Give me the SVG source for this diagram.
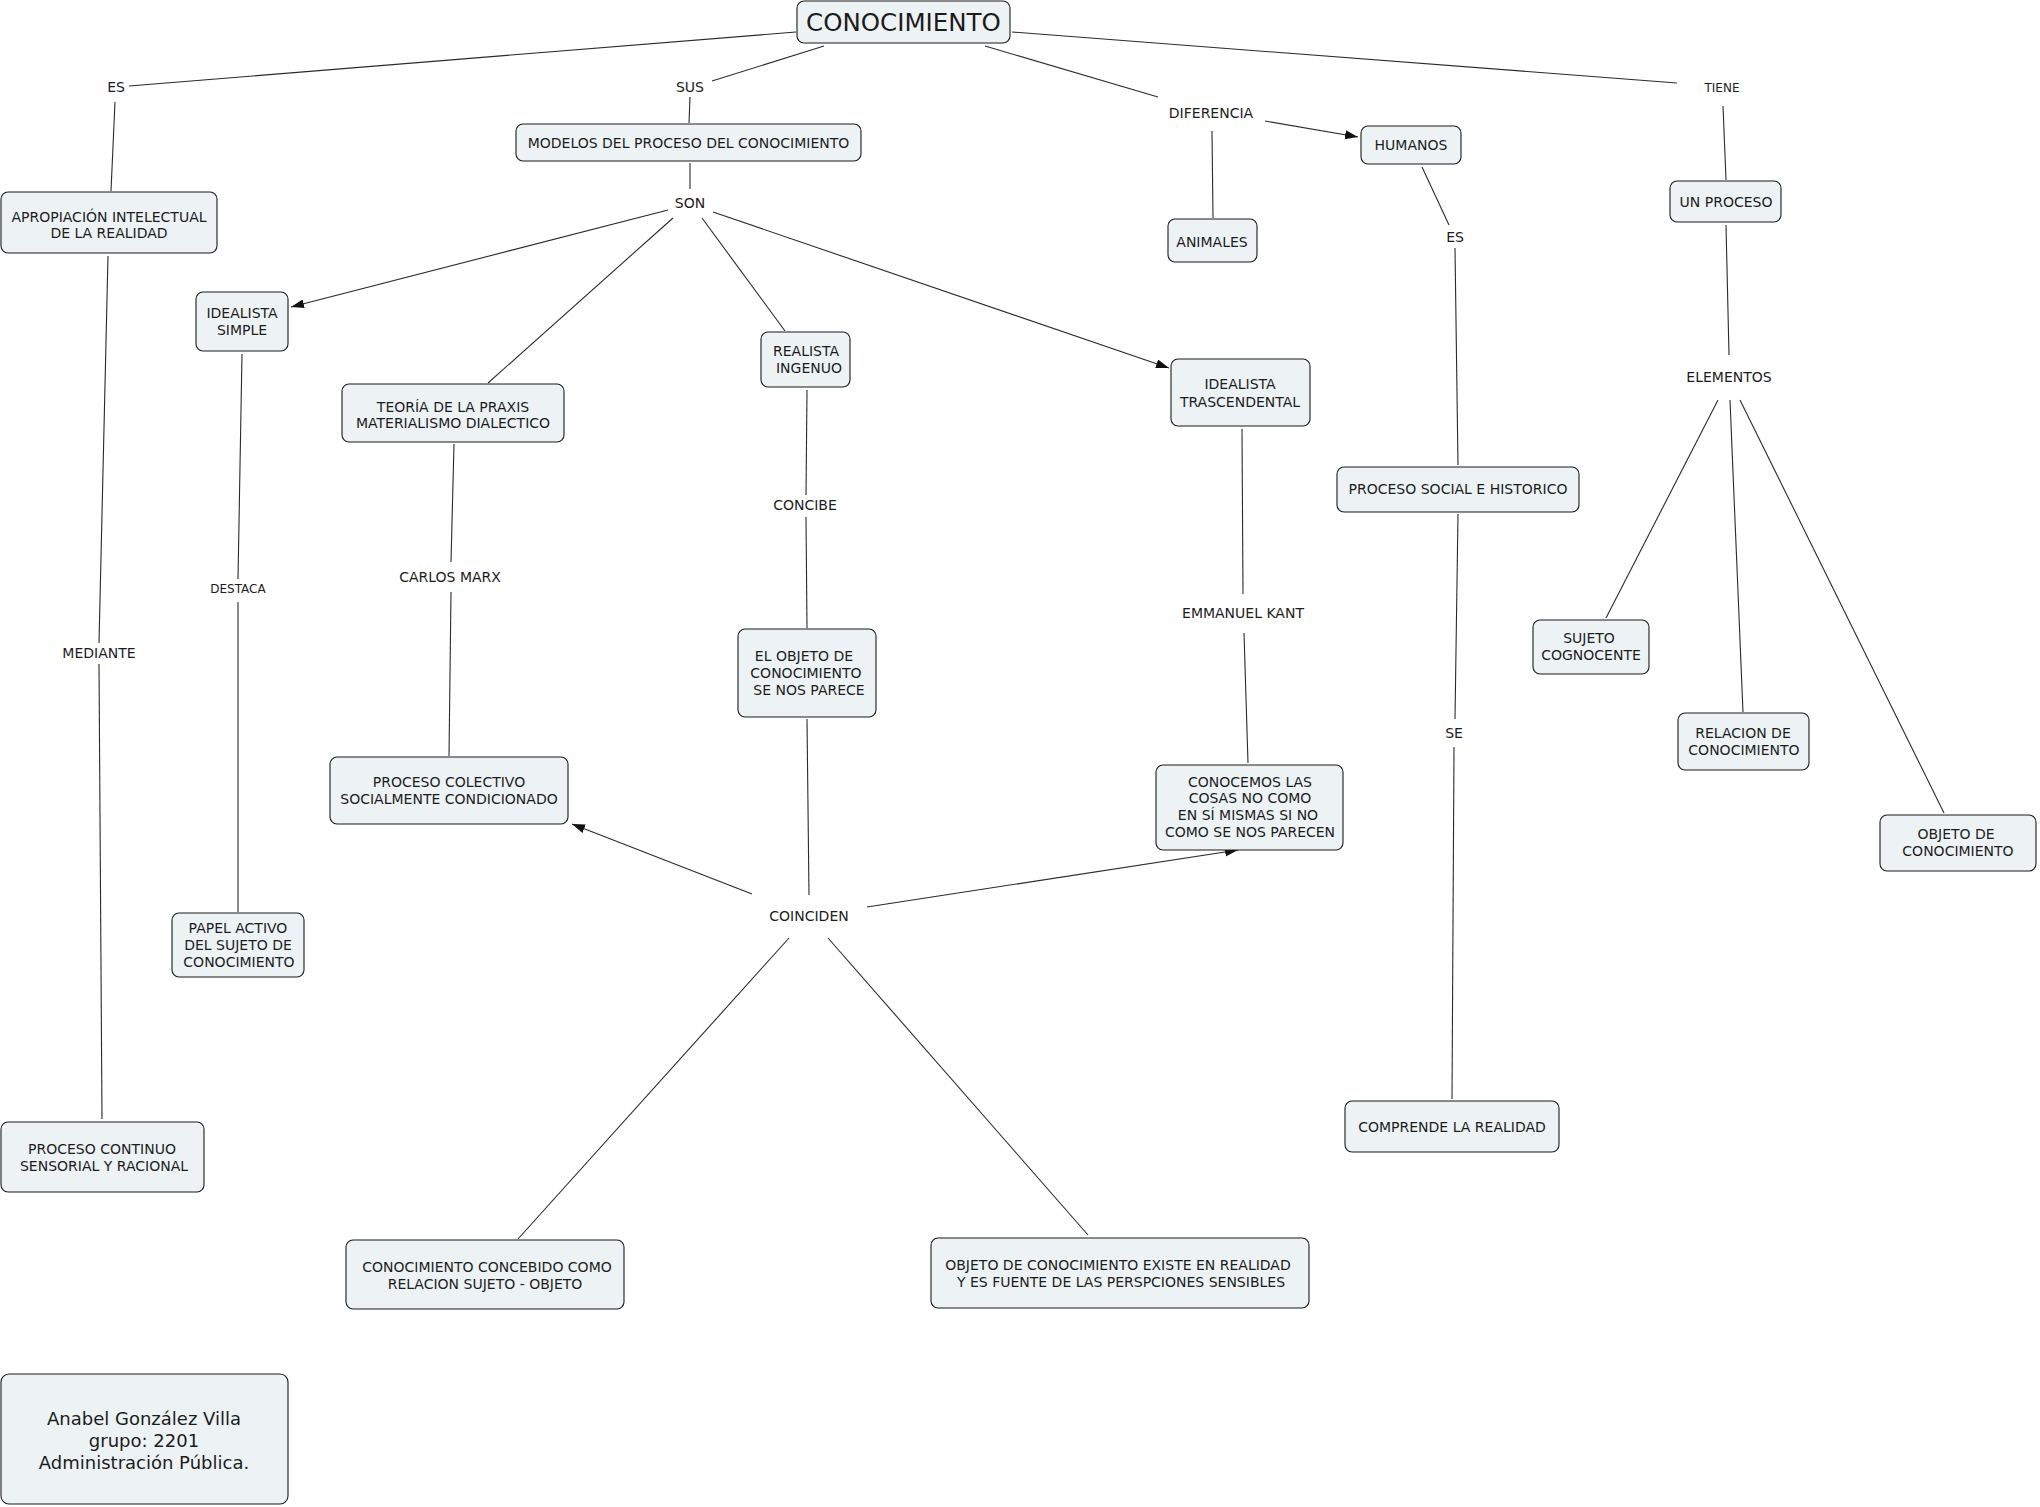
<svg xmlns="http://www.w3.org/2000/svg" width="2040" height="1507" viewBox="0 0 2040 1507">
<style>
.n{fill:#edf3f5;stroke:#1a1a1a;stroke-width:1.1}
text{font-family:"DejaVu Sans",Verdana,sans-serif;font-size:14px;fill:#1c1c1c;text-anchor:middle}
.s{font-size:12px}
.big{font-size:24.5px}
.au{font-size:18px}
.c line{stroke:#2a2a2a;stroke-width:1.1}
</style>
<defs>
<marker id="ah" markerUnits="userSpaceOnUse" markerWidth="14" markerHeight="10" refX="13" refY="4.5" orient="auto">
<path d="M0,0 L13,4.5 L0,9 z" fill="#111"/>
</marker>
</defs>
<rect width="2040" height="1507" fill="#fff"/>
<g class="c" id="connectors">
<line x1="796" y1="32" x2="129" y2="86"/>
<line x1="115" y1="102" x2="111" y2="191"/>
<line x1="824" y1="46" x2="712" y2="81"/>
<line x1="690" y1="97" x2="689" y2="123"/>
<line x1="690" y1="163" x2="690" y2="189"/>
<line x1="668" y1="210" x2="291" y2="307" marker-end="url(#ah)"/>
<line x1="673" y1="218" x2="488" y2="383"/>
<line x1="702" y1="218" x2="785" y2="331"/>
<line x1="713" y1="212" x2="1169" y2="368" marker-end="url(#ah)"/>
<line x1="985" y1="46" x2="1158" y2="97"/>
<line x1="1265" y1="121" x2="1358" y2="137" marker-end="url(#ah)"/>
<line x1="1212" y1="131" x2="1213" y2="218"/>
<line x1="1012" y1="32" x2="1677" y2="83"/>
<line x1="1723" y1="106" x2="1726" y2="180"/>
<line x1="1726" y1="225" x2="1729" y2="355"/>
<line x1="1718" y1="400" x2="1606" y2="618"/>
<line x1="1730" y1="400" x2="1743" y2="712"/>
<line x1="1740" y1="400" x2="1944" y2="813"/>
<line x1="1422" y1="167" x2="1449" y2="225"/>
<line x1="1455" y1="248" x2="1458" y2="465"/>
<line x1="1458" y1="514" x2="1455" y2="719"/>
<line x1="1454" y1="747" x2="1452" y2="1099"/>
<line x1="108" y1="256" x2="99" y2="643"/>
<line x1="99" y1="664" x2="102" y2="1119"/>
<line x1="242" y1="354" x2="238" y2="579"/>
<line x1="238" y1="602" x2="238" y2="912"/>
<line x1="454" y1="444" x2="451" y2="562"/>
<line x1="451" y1="592" x2="449" y2="756"/>
<line x1="807" y1="390" x2="806" y2="495"/>
<line x1="806" y1="517" x2="807" y2="628"/>
<line x1="807" y1="719" x2="809" y2="895"/>
<line x1="752" y1="894" x2="572" y2="824" marker-end="url(#ah)"/>
<line x1="867" y1="907" x2="1238" y2="850" marker-end="url(#ah)"/>
<line x1="1242" y1="429" x2="1243" y2="594"/>
<line x1="1244" y1="633" x2="1248" y2="763"/>
<line x1="789" y1="938" x2="518" y2="1239"/>
<line x1="828" y1="938" x2="1088" y2="1235"/>
</g>
<g id="conocimiento"><rect class="n" x="797" y="1" width="213" height="42" rx="7"/><text class="big" x="903.5" y="31">CONOCIMIENTO</text></g>
<g id="es1"><text x="116" y="92">ES</text></g>
<g id="sus"><text x="690" y="92">SUS</text></g>
<g id="diferencia"><text x="1211" y="118">DIFERENCIA</text></g>
<g id="tiene"><text class="s" x="1722" y="92">TIENE</text></g>
<g id="modelos"><rect class="n" x="516" y="124" width="345" height="37" rx="7"/><text x="688.5" y="148">MODELOS DEL PROCESO DEL CONOCIMIENTO</text></g>
<g id="son"><text x="690" y="208">SON</text></g>
<g id="apropiacion"><rect class="n" x="1" y="192" width="216" height="61" rx="7"/><text x="109" y="222">APROPIACIÓN INTELECTUAL</text><text x="109" y="238">DE LA REALIDAD</text></g>
<g id="idealista-simple"><rect class="n" x="196" y="292" width="92" height="59" rx="7"/><text x="242" y="318">IDEALISTA</text><text x="242" y="335">SIMPLE</text></g>
<g id="teoria"><rect class="n" x="342" y="384" width="222" height="58" rx="7"/><text x="453" y="412">TEORÍA DE LA PRAXIS</text><text x="453" y="428">MATERIALISMO DIALECTICO</text></g>
<g id="realista"><rect class="n" x="761" y="332" width="89" height="55" rx="7"/><text x="806" y="356">REALISTA</text><text x="809" y="373">INGENUO</text></g>
<g id="idealista-trascendental"><rect class="n" x="1171" y="359" width="139" height="67" rx="7"/><text x="1240" y="389">IDEALISTA</text><text x="1240" y="407">TRASCENDENTAL</text></g>
<g id="animales"><rect class="n" x="1168" y="219" width="89" height="43" rx="7"/><text x="1212" y="247">ANIMALES</text></g>
<g id="humanos"><rect class="n" x="1361" y="126" width="100" height="38" rx="7"/><text x="1411" y="150">HUMANOS</text></g>
<g id="es2"><text x="1455" y="242">ES</text></g>
<g id="un-proceso"><rect class="n" x="1670" y="181" width="111" height="41" rx="7"/><text x="1726" y="207">UN PROCESO</text></g>
<g id="elementos"><text x="1729" y="382">ELEMENTOS</text></g>
<g id="proceso-social"><rect class="n" x="1337" y="467" width="242" height="45" rx="7"/><text x="1458" y="494">PROCESO SOCIAL E HISTORICO</text></g>
<g id="se"><text x="1454" y="738">SE</text></g>
<g id="comprende"><rect class="n" x="1345" y="1101" width="214" height="51" rx="7"/><text x="1452" y="1132">COMPRENDE LA REALIDAD</text></g>
<g id="sujeto"><rect class="n" x="1533" y="620" width="116" height="54" rx="7"/><text x="1589" y="643">SUJETO</text><text x="1591" y="660">COGNOCENTE</text></g>
<g id="relacion"><rect class="n" x="1678" y="713" width="131" height="57" rx="7"/><text x="1743" y="738">RELACION DE</text><text x="1744" y="755">CONOCIMIENTO</text></g>
<g id="objeto"><rect class="n" x="1880" y="815" width="156" height="56" rx="7"/><text x="1956" y="839">OBJETO DE</text><text x="1958" y="856">CONOCIMIENTO</text></g>
<g id="mediante"><text x="99" y="658">MEDIANTE</text></g>
<g id="destaca"><text class="s" x="238" y="593">DESTACA</text></g>
<g id="carlos-marx"><text x="450" y="582">CARLOS MARX</text></g>
<g id="proceso-colectivo"><rect class="n" x="330" y="757" width="238" height="67" rx="7"/><text x="449" y="787">PROCESO COLECTIVO</text><text x="449" y="804">SOCIALMENTE CONDICIONADO</text></g>
<g id="papel"><rect class="n" x="172" y="913" width="132" height="64" rx="7"/><text x="238" y="933">PAPEL ACTIVO</text><text x="238" y="950">DEL SUJETO DE</text><text x="239" y="967">CONOCIMIENTO</text></g>
<g id="concibe"><text x="805" y="510">CONCIBE</text></g>
<g id="el-objeto"><rect class="n" x="738" y="629" width="138" height="88" rx="7"/><text x="804" y="661">EL OBJETO DE</text><text x="806" y="678">CONOCIMIENTO</text><text x="809" y="695">SE NOS PARECE</text></g>
<g id="kant"><text x="1243" y="618">EMMANUEL KANT</text></g>
<g id="conocemos"><rect class="n" x="1156" y="765" width="187" height="85" rx="7"/><text x="1250" y="787">CONOCEMOS LAS</text><text x="1250" y="803">COSAS NO COMO</text><text x="1248" y="820">EN SÍ MISMAS SI NO</text><text x="1250" y="837">COMO SE NOS PARECEN</text></g>
<g id="coinciden"><text x="809" y="921">COINCIDEN</text></g>
<g id="proceso-continuo"><rect class="n" x="1" y="1122" width="203" height="70" rx="7"/><text x="102" y="1154">PROCESO CONTINUO</text><text x="104" y="1171">SENSORIAL Y RACIONAL</text></g>
<g id="conocimiento-concebido"><rect class="n" x="346" y="1240" width="278" height="69" rx="7"/><text x="487" y="1272">CONOCIMIENTO CONCEBIDO COMO</text><text x="485" y="1289">RELACION SUJETO - OBJETO</text></g>
<g id="objeto-existe"><rect class="n" x="931" y="1238" width="378" height="70" rx="7"/><text x="1118" y="1270">OBJETO DE CONOCIMIENTO EXISTE EN REALIDAD</text><text x="1121" y="1287">Y ES FUENTE DE LAS PERSPCIONES SENSIBLES</text></g>
<g id="autor"><rect class="n" x="1" y="1374" width="287" height="130" rx="8"/><text class="au" x="144" y="1425">Anabel González Villa</text><text class="au" x="144" y="1447">grupo: 2201</text><text class="au" x="144" y="1469">Administración Pública.</text></g>
</svg>
